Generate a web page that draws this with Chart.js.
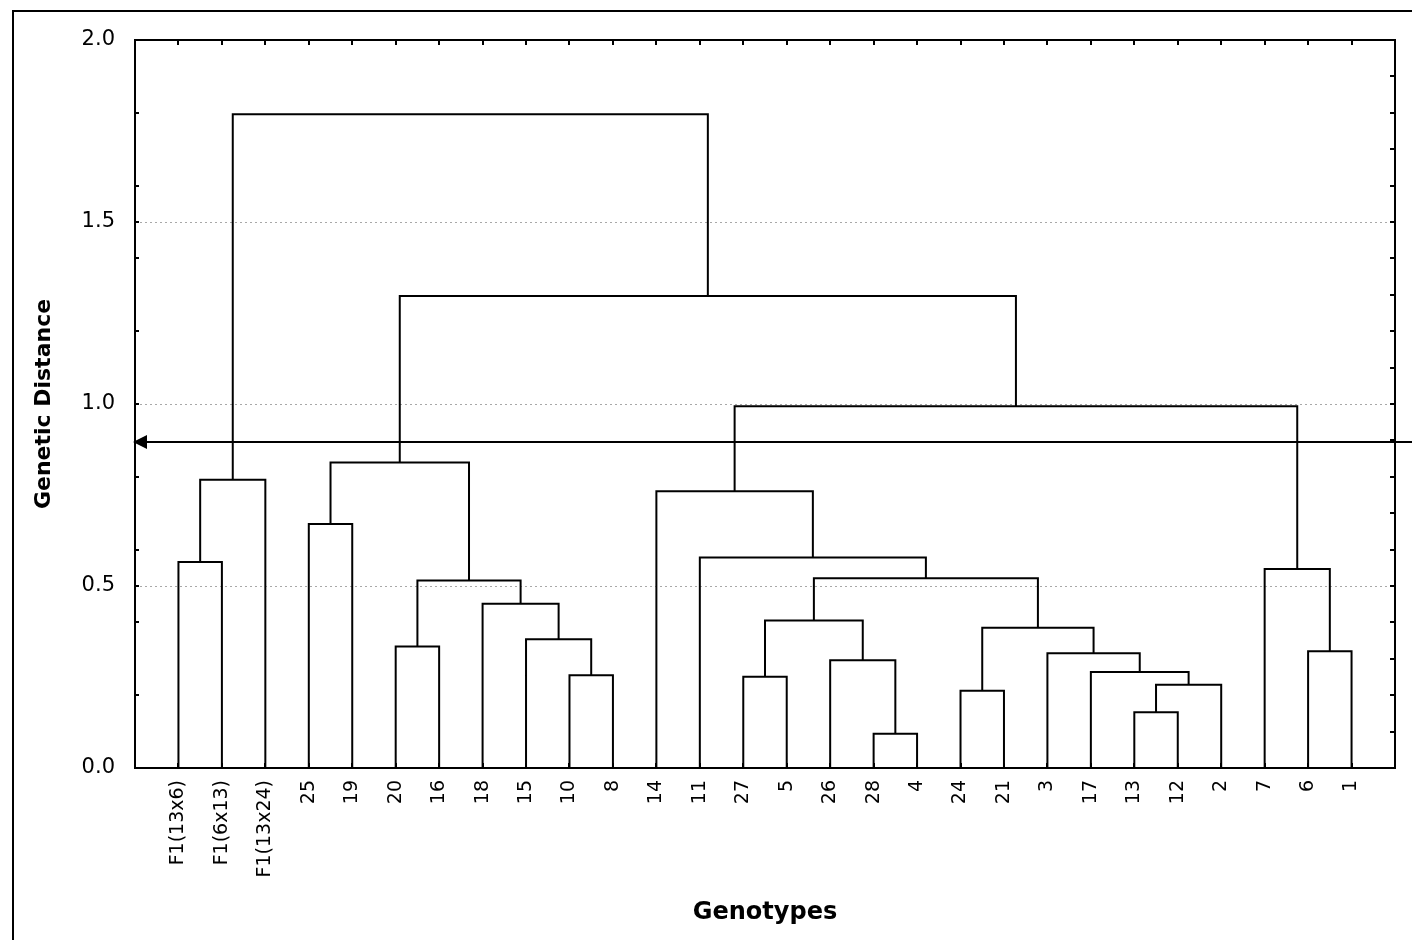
<!DOCTYPE html>
<html><head><meta charset="utf-8">
<script src="https://cdn.jsdelivr.net/npm/chart.js@4"></script>
<style>html,body{margin:0;padding:0;background:#fff;overflow:hidden}#wrap{width:1412px;height:940px}</style>
</head><body><div id="wrap"><canvas id="c" width="1412" height="940"></canvas></div>
<script>
// Leaf order (left to right) of the dendrogram
const leafLabels = ['F1(13x6)','F1(6x13)','F1(13x24)','25','19','20','16','18','15','10','8','14','11','27','5','26','28','4','24','21','3','17','13','12','2','7','6','1'];
// Merges: node ids 0..27 are leaves, merge k creates node 28+k
const mergeLeft   = [0, 28, 3, 9, 8, 7, 5, 34, 30, 22, 37, 21, 20, 18, 41, 16, 15, 13, 45, 46, 12, 11, 26, 25, 49, 36, 29];
const mergeRight  = [1, 2, 4, 10, 31, 32, 6, 33, 35, 23, 24, 38, 39, 19, 40, 17, 43, 14, 44, 42, 47, 48, 27, 50, 51, 52, 53];
const mergeHeight = [0.566, 0.792, 0.670, 0.255, 0.354, 0.451, 0.334, 0.515, 0.839, 0.153, 0.229, 0.264, 0.315, 0.212, 0.385, 0.094, 0.296, 0.251, 0.405, 0.521, 0.578, 0.760, 0.321, 0.547, 0.994, 1.297, 1.796];
const yTicks = [0.0, 0.5, 1.0, 1.5, 2.0];
const cutLevel = 0.895;
const yTitle = 'Genetic Distance';
const xTitle = 'Genotypes';

const nodeX = leafLabels.map((_, i) => i + 1);
const nodeY = leafLabels.map(() => 0);
const datasets = [];
mergeLeft.forEach((l, k) => {
  const r = mergeRight[k], h = mergeHeight[k];
  datasets.push({
    data: [{x: nodeX[l], y: nodeY[l]}, {x: nodeX[l], y: h}, {x: nodeX[r], y: h}, {x: nodeX[r], y: nodeY[r]}],
    showLine: true, borderColor: '#000', borderWidth: 2, pointRadius: 0, tension: 0,
    borderJoinStyle: 'miter', fill: false
  });
  nodeX.push((nodeX[l] + nodeX[r]) / 2);
  nodeY.push(h);
});

const decor = {
  id: 'decor',
  beforeDraw(chart) {
    const ctx = chart.ctx;
    ctx.save();
    ctx.fillStyle = '#fff';
    ctx.fillRect(0, 0, chart.width, chart.height);
    ctx.strokeStyle = '#000';
    ctx.lineWidth = 2;
    ctx.beginPath();
    ctx.moveTo(13, chart.height + 5);
    ctx.lineTo(13, 11);
    ctx.lineTo(chart.width + 5, 11);
    ctx.stroke();
    ctx.restore();
  },
  afterDatasetsDraw(chart) {
    const ctx = chart.ctx, a = chart.chartArea;
    const xs = chart.scales.x, ys = chart.scales.y;
    ctx.save();
    ctx.strokeStyle = '#000';
    ctx.lineWidth = 2;
    ctx.strokeRect(a.left, a.top, a.right - a.left, a.bottom - a.top);
    ctx.beginPath();
    leafLabels.forEach((_, i) => {
      const px = Math.round(xs.getPixelForValue(i + 1));
      ctx.moveTo(px, a.top); ctx.lineTo(px, a.top + 5);
      ctx.moveTo(px, a.bottom); ctx.lineTo(px, a.bottom - 5);
    });
    for (let v = 1; v < 20; v++) {
      const py = Math.round(ys.getPixelForValue(v / 10));
      ctx.moveTo(a.right, py); ctx.lineTo(a.right - 5, py);
      if (v % 2 === 0 || v % 5 === 0) { ctx.moveTo(a.left, py); ctx.lineTo(a.left + 4, py); }
    }
    ctx.stroke();
    // cut line with arrow
    const yc = Math.round(ys.getPixelForValue(cutLevel));
    const x0 = xs.getPixelForValue(0) - 2;
    ctx.beginPath();
    ctx.moveTo(x0 + 10, yc); ctx.lineTo(chart.width, yc);
    ctx.stroke();
    ctx.fillStyle = '#000';
    ctx.beginPath();
    ctx.moveTo(x0, yc); ctx.lineTo(x0 + 14, yc - 7); ctx.lineTo(x0 + 14, yc + 7); ctx.closePath();
    ctx.fill();
    ctx.restore();
  }
};

new Chart(document.getElementById('c'), {
  type: 'scatter',
  data: { datasets },
  plugins: [decor],
  options: {
    responsive: false, animation: false, devicePixelRatio: 1,
    layout: { padding: { top: 40, right: 17, left: 0, bottom: 0 } },
    plugins: { legend: { display: false }, tooltip: { enabled: false } },
    scales: {
      x: {
        type: 'linear', min: 0, max: leafLabels.length + 1,
        grid: { display: false, drawTicks: false }, border: { display: false },
        ticks: {
          stepSize: 1, autoSkip: false, maxTicksLimit: 100, minRotation: 90, maxRotation: 90, padding: 12,
          color: '#000', font: { family: 'DejaVu Sans', size: 19 },
          callback: v => leafLabels[Math.round(v) - 1] ?? ''
        },
        title: { display: true, text: xTitle, color: '#000', font: { family: 'DejaVu Sans', size: 24, weight: 'bold' }, padding: { top: 0, bottom: 13 } },
        afterFit: s => { s.height = 172; s.paddingLeft = 0; s.paddingRight = 0; }
      },
      y: {
        min: 0, max: 2,
        afterBuildTicks: s => { s.ticks = yTicks.map(v => ({ value: v })); },
        ticks: { padding: 20, color: '#000', font: { family: 'DejaVu Sans', size: 21 }, callback: v => Number(v).toFixed(1) },
        grid: { drawTicks: false, lineWidth: 1, color: c => (c.tick && c.tick.value > 0 && c.tick.value < 2) ? '#a8a8a8' : 'rgba(0,0,0,0)' },
        border: { display: false, dash: [2, 3] },
        title: { display: true, text: yTitle, color: '#000', font: { family: 'DejaVu Sans', size: 22, weight: 'bold' }, padding: { top: 31, bottom: 0 } },
        afterFit: s => { s.width = 135; s.paddingTop = 0; s.paddingBottom = 0; }
      }
    }
  }
});
</script>
</body></html>
